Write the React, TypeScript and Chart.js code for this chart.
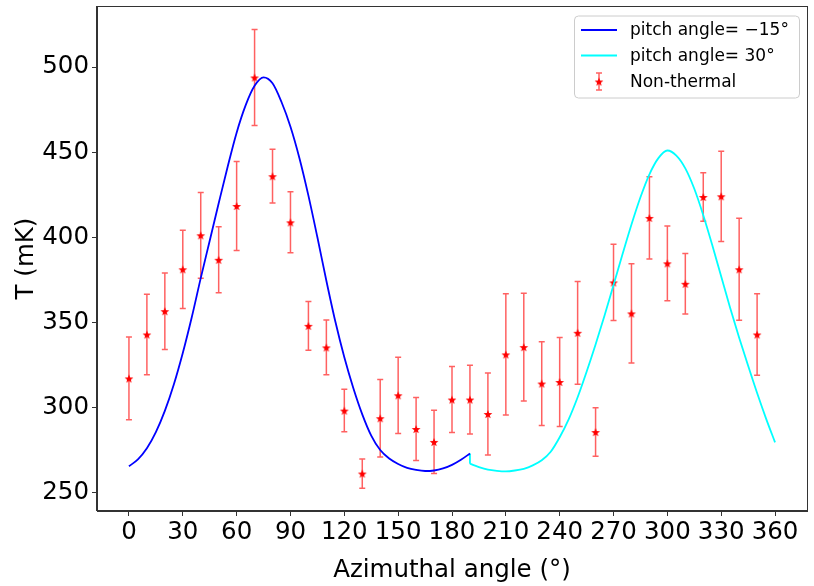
"use client"

import { Chart, registerables } from "chart.js"
import { useEffect, useRef } from "react"

Chart.register(...registerables)

const FONT = "'DejaVu Sans', sans-serif"

// measured points (azimuth in degrees, T in mK)
const azimuth = [
	0, 10, 20, 30, 40, 50, 60, 70, 80, 90, 100, 110, 120, 130, 140, 150, 160, 170,
	180, 190, 200, 210, 220, 230, 240, 250, 260, 270, 280, 290, 300, 310, 320, 330, 340, 350
]
const nonThermal = [
	317.1, 342.9, 356.6, 381.2, 401.2, 386.8, 418.4, 493.9, 435.9, 408.8, 348, 335.3, 298.2, 261.2,
	293.7, 307.2, 287.4, 279.8, 304.7, 304.7, 296.2, 331.2, 335.5, 314.1, 315, 343.9, 285.6, 373.5,
	355.3, 411.4, 384.7, 372.7, 423.7, 424.1, 381.2, 342.9
]
const nonThermalErr = [
	24.3, 23.7, 22.5, 23, 25.2, 19.4, 26.1, 28.2, 15.8, 17.9, 14.3, 16.1, 12.5, 8.6, 22.8, 22.4,
	18.5, 18.6, 19.4, 20.2, 24.1, 35.6, 31.7, 24.6, 26.1, 30.2, 14.3, 22.4, 29.1, 24.2, 21.9, 17.8,
	14.2, 26.5, 30, 24
]

// model curves
const pitchM15Angle = [
	0, 5, 10, 15, 20, 25, 30, 35, 40, 45, 50, 55, 60, 65, 70, 75, 80, 85, 90, 95, 100, 105, 110,
	115, 120, 125, 130, 135, 140, 145, 150, 155, 160, 165, 170, 175, 180, 185, 190
]
const pitchM15T = [
	265.5, 269.5, 276, 285.5, 298, 313.5, 332, 353, 376, 398, 420, 441.5, 461.5, 477.5, 489,
	494, 490.5, 479.5, 465, 446.5, 424.5, 400, 374.5, 350.5, 329.5, 311.5, 296, 283.5, 275, 270,
	266.8, 264.5, 263.3, 262.7, 263, 264.2, 266.3, 269.3, 273
]
// the 30° curve starts with a step down at 190°
const pitch30StepT = [273, 267]
const pitch30Angle = [
	190, 195, 200, 205, 210, 215, 220, 225, 230, 235, 240, 245, 250, 255, 260, 265, 270, 275,
	280, 285, 290, 295, 300, 305, 310, 315, 320, 325, 330, 335, 340, 345, 350, 355, 360
]
const pitch30T = [
	267, 265, 263.5, 262.8, 262.5, 263, 264, 266, 269, 274, 282.5, 293, 306, 321, 337, 354,
	372, 390, 407.5, 423.5, 437, 446.5, 451, 448, 440.5, 428.5, 413, 395.5, 377, 358.5, 341, 324.5,
	308.5, 293.5, 279.5
]

const xTicks = [0, 30, 60, 90, 120, 150, 180, 210, 240, 270, 300, 330, 360]
const yTicks = [250, 300, 350, 400, 450, 500]

const legendLabels = ["pitch angle= \u221215\u00b0", "pitch angle= 30\u00b0", "Non-thermal"]

function starImage(r: number, color: string) {
	const c = document.createElement("canvas")
	const s = Math.ceil(r * 2 + 2)
	c.width = s
	c.height = s
	const g = c.getContext("2d") as CanvasRenderingContext2D
	g.beginPath()
	for (let i = 0; i < 10; i++) {
		const rad = i % 2 === 0 ? r : r * 0.42
		const a = -Math.PI / 2 + (i * Math.PI) / 5
		const px = s / 2 + rad * Math.cos(a)
		const py = s / 2 + 0.6 + rad * Math.sin(a)
		if (i === 0) g.moveTo(px, py)
		else g.lineTo(px, py)
	}
	g.closePath()
	g.fillStyle = color
	g.fill()
	return c
}

const ERR_COLOR = "rgba(255,0,0,0.62)"

function drawErrBar(ctx: CanvasRenderingContext2D, px: number, top: number, bot: number) {
	ctx.beginPath()
	ctx.moveTo(px, top)
	ctx.lineTo(px, bot)
	ctx.moveTo(px - 3, top)
	ctx.lineTo(px + 3, top)
	ctx.moveTo(px - 3, bot)
	ctx.lineTo(px + 3, bot)
	ctx.stroke()
}

const errorBars = {
	id: "errorBars",
	beforeDatasetDraw(chart: any, args: any) {
		if (args.index !== 3) return
		const { ctx, scales } = chart
		ctx.save()
		ctx.strokeStyle = ERR_COLOR
		ctx.lineWidth = 1.5
		azimuth.forEach((a, i) => {
			const px = scales.x.getPixelForValue(a)
			const top = scales.y.getPixelForValue(nonThermal[i] + nonThermalErr[i])
			const bot = scales.y.getPixelForValue(nonThermal[i] - nonThermalErr[i])
			drawErrBar(ctx, px, top, bot)
		})
		ctx.restore()
	}
}

const frameAndLegend = {
	id: "frameAndLegend",
	afterDraw(chart: any) {
		const { ctx, chartArea: area } = chart
		ctx.save()
		ctx.strokeStyle = "#333"
		ctx.lineWidth = 1
		ctx.strokeRect(Math.round(area.left) - 0.5, Math.round(area.top) + 0.5,
			Math.round(area.right - area.left) + 1, Math.round(area.bottom - area.top) - 1)

		// legend box, upper right
		const w = 225
		const h = 82
		const lx = area.right - 8 - w
		const ly = area.top + 9.5
		ctx.beginPath()
		ctx.roundRect(lx + 0.5, ly + 0.5, w, h, 4)
		ctx.fillStyle = "rgba(255,255,255,0.8)"
		ctx.fill()
		ctx.strokeStyle = "#cccccc"
		ctx.stroke()

		const rows = [ly + 14.5, ly + 40, ly + 66]
		ctx.lineWidth = 1.8
		ctx.strokeStyle = "blue"
		ctx.beginPath()
		ctx.moveTo(lx + 7, rows[0])
		ctx.lineTo(lx + 43, rows[0])
		ctx.stroke()
		ctx.strokeStyle = "cyan"
		ctx.beginPath()
		ctx.moveTo(lx + 7, rows[1])
		ctx.lineTo(lx + 43, rows[1])
		ctx.stroke()
		ctx.strokeStyle = ERR_COLOR
		ctx.lineWidth = 1.5
		drawErrBar(ctx, lx + 25, rows[2] - 8.5, rows[2] + 8.5)
		const star = starImage(4.6, "red")
		ctx.drawImage(star, lx + 25 - star.width / 2, rows[2] - star.height / 2)

		ctx.fillStyle = "#000"
		ctx.font = `17px ${FONT}`
		ctx.textBaseline = "middle"
		ctx.textAlign = "left"
		legendLabels.forEach((t, i) => ctx.fillText(t, lx + 56, rows[i] + 1))
		ctx.restore()
	}
}

export default function App() {
	const canvasRef = useRef<HTMLCanvasElement>(null)

	useEffect(() => {
		document.body.style.margin = "0"
		const ctx = canvasRef.current?.getContext("2d") as CanvasRenderingContext2D
		const tickFont = { family: FONT, size: 24.5 }
		const star = starImage(4.6, "red")

		const chart = new Chart(ctx, {
			type: "scatter",
			data: {
				datasets: [
					{
						label: legendLabels[0],
						data: pitchM15Angle.map((a, i) => ({ x: a, y: pitchM15T[i] })),
						showLine: true,
						borderColor: "blue",
						borderWidth: 1.8,
						pointRadius: 0,
						cubicInterpolationMode: "monotone"
					},
					{
						label: legendLabels[1],
						data: pitch30StepT.map((t) => ({ x: pitch30Angle[0], y: t })),
						showLine: true,
						borderColor: "cyan",
						borderWidth: 1.8,
						pointRadius: 0
					},
					{
						label: legendLabels[1],
						data: pitch30Angle.map((a, i) => ({ x: a, y: pitch30T[i] })),
						showLine: true,
						borderColor: "cyan",
						borderWidth: 1.8,
						pointRadius: 0,
						cubicInterpolationMode: "monotone"
					},
					{
						label: legendLabels[2],
						data: azimuth.map((a, i) => ({ x: a, y: nonThermal[i] })),
						showLine: false,
						pointStyle: star,
						pointRadius: 5,
						backgroundColor: "red",
						borderColor: "red"
					}
				]
			},
			options: {
				animation: false,
				responsive: true,
				maintainAspectRatio: false,
				events: [],
				layout: { padding: { top: 6, right: 7, left: 0, bottom: 0 } },
				plugins: {
					legend: { display: false },
					tooltip: { enabled: false }
				},
				scales: {
					x: {
						type: "linear",
						min: -17.8,
						max: 377.8,
						afterBuildTicks: (s: any) => {
							s.ticks = xTicks.map((v) => ({ value: v }))
						},
						afterFit: (s: any) => {
							s.height = 75
							s.paddingLeft = 0
							s.paddingRight = 0
						},
						ticks: { font: tickFont, color: "#000", padding: 2, maxRotation: 0, autoSkip: false },
						grid: { drawOnChartArea: false, tickLength: 5, color: "#333" },
						border: { display: true, color: "#333" },
						title: {
							display: true,
							text: "Azimuthal angle (\u00b0)",
							font: tickFont,
							color: "#000",
							padding: { top: 0, bottom: 1 }
						}
					},
					y: {
						type: "linear",
						min: 239.2,
						max: 535.9,
						afterBuildTicks: (s: any) => {
							s.ticks = yTicks.map((v) => ({ value: v }))
						},
						afterFit: (s: any) => {
							s.width = 97
							s.paddingTop = 0
							s.paddingBottom = 0
						},
						ticks: { font: tickFont, color: "#000", padding: 3 },
						grid: { drawOnChartArea: false, tickLength: 5, color: "#333" },
						border: { display: true, color: "#333" },
						title: {
							display: true,
							text: "T (mK)",
							font: tickFont,
							color: "#000",
							padding: { top: 12, bottom: 0 }
						}
					}
				}
			},
			plugins: [errorBars, frameAndLegend]
		})

		return () => {
			chart.destroy()
		}
	}, [])

	return (
		<div style={{ width: 814, height: 586, position: "relative" }}>
			<canvas ref={canvasRef}>Your browser does not support the canvas element.</canvas>
		</div>
	)
}
